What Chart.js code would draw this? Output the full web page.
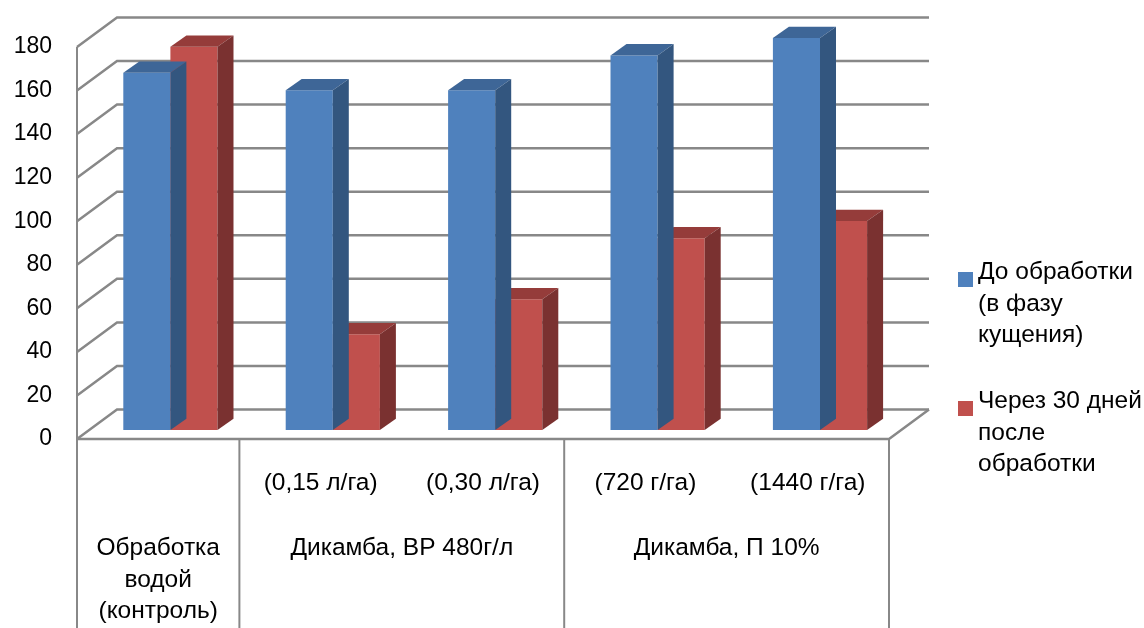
<!DOCTYPE html>
<html lang="ru">
<head>
<meta charset="utf-8">
<title>Дикамба</title>
<script src="https://cdn.jsdelivr.net/npm/chart.js@4/dist/chart.umd.min.js"></script>
<style>
  html, body { margin: 0; padding: 0; background: #ffffff; }
  #wrap { width: 1144px; height: 628px; position: relative; }
</style>
</head>
<body>
<div id="wrap"><canvas id="chart"></canvas></div>
<script>
// ---- data ----
const categories = ['', '(0,15 л/га)', '(0,30 л/га)', '(720 г/га)', '(1440 г/га)'];
const groupLabels = [['Обработка', 'водой', '(контроль)'], ['Дикамба, ВР 480г/л'], ['Дикамба, П 10%']];
const groupSpans = [1, 2, 2];
const seriesNames = [['До обработки', '(в фазу', 'кущения)'], ['Через 30 дней', 'после', 'обработки']];
const beforeValues = [164, 156, 156, 172, 180];
const afterValues = [176, 44, 60, 88, 96];
const yTickLabels = ['0', '20', '40', '60', '80', '100', '120', '140', '160', '180'];

// ---- look ----
const FONT_FAMILY = '"Liberation Sans", Arial, sans-serif';
const TICK_SIZE = 23;
const TEXT_SIZE = 24.5;
const LINE_H = 31.5;
const GRID = '#888888';
const WALL = { dx: 40, dy: -29.5 };       // front plane -> back wall
const BAR_SHIFT = { dx: 12.2, dy: -9 };   // front plane -> bar front faces
const BAR_DEPTH = { dx: 16, dy: -11.3 };  // bar front -> bar back
const COLORS = [
  { front: '#4F81BD', top: '#3E6697', side: '#33567F' },
  { front: '#C0504D', top: '#953C3A', side: '#7A3130' }
];

// walls, floor, bar depth, category labels and legend
const depthPlugin = {
  id: 'depth3d',
  beforeDatasetsDraw(chart) {
    const { ctx, chartArea: a, scales: { y } } = chart;
    ctx.save();
    ctx.strokeStyle = GRID;
    ctx.lineWidth = 2.5;
    y.ticks.forEach(t => {
      const fy = y.getPixelForValue(t.value);
      ctx.beginPath();
      ctx.moveTo(a.left, fy);
      ctx.lineTo(a.left + WALL.dx, fy + WALL.dy);
      ctx.lineTo(a.right + WALL.dx, fy + WALL.dy);
      ctx.stroke();
    });
    ctx.lineWidth = 2;
    ctx.beginPath();
    ctx.moveTo(a.left, a.bottom);
    ctx.lineTo(a.left, y.getPixelForValue(y.max));
    ctx.stroke();
    ctx.lineWidth = 2.5;
    ctx.beginPath();
    ctx.moveTo(a.left, a.bottom);
    ctx.lineTo(a.right, a.bottom);
    ctx.lineTo(a.right + WALL.dx, a.bottom + WALL.dy);
    ctx.stroke();
    ctx.restore();
    // bars stand in the middle of the floor depth
    ctx.save();
    ctx.translate(BAR_SHIFT.dx, BAR_SHIFT.dy);
  },
  afterDatasetDraw(chart, args) {
    const ctx = chart.ctx;
    const c = COLORS[args.index];
    args.meta.data.forEach(bar => {
      const { x, y, base, width } = bar.getProps(['x', 'y', 'base', 'width'], true);
      const l = x - width / 2, r = x + width / 2;
      ctx.fillStyle = c.top;
      ctx.beginPath();
      ctx.moveTo(l, y);
      ctx.lineTo(r, y);
      ctx.lineTo(r + BAR_DEPTH.dx, y + BAR_DEPTH.dy);
      ctx.lineTo(l + BAR_DEPTH.dx, y + BAR_DEPTH.dy);
      ctx.closePath();
      ctx.fill();
      ctx.fillStyle = c.side;
      ctx.beginPath();
      ctx.moveTo(r, y);
      ctx.lineTo(r + BAR_DEPTH.dx, y + BAR_DEPTH.dy);
      ctx.lineTo(r + BAR_DEPTH.dx, base + BAR_DEPTH.dy);
      ctx.lineTo(r, base);
      ctx.closePath();
      ctx.fill();
    });
  },
  afterDatasetsDraw(chart) {
    chart.ctx.restore();
  },
  afterDraw(chart) {
    const { ctx, chartArea: a, scales: { x } } = chart;
    const H = chart.height;
    ctx.save();
    // category boundaries on the front edge
    const bounds = [a.left];
    for (let i = 1; i < categories.length; i++) {
      bounds.push((x.getPixelForValue(i - 1) + x.getPixelForValue(i)) / 2);
    }
    bounds.push(a.right);
    // group dividers below the floor
    ctx.strokeStyle = GRID;
    ctx.lineWidth = 2;
    let idx = 0;
    const groupEdges = [0];
    groupSpans.forEach(s => { idx += s; groupEdges.push(idx); });
    groupEdges.forEach(g => {
      ctx.beginPath();
      ctx.moveTo(bounds[g], a.bottom);
      ctx.lineTo(bounds[g], H);
      ctx.stroke();
    });
    ctx.fillStyle = '#000000';
    ctx.font = TEXT_SIZE + 'px ' + FONT_FAMILY;
    ctx.textAlign = 'center';
    ctx.textBaseline = 'alphabetic';
    categories.forEach((lbl, i) => {
      if (lbl) ctx.fillText(lbl, x.getPixelForValue(i), a.bottom + 51);
    });
    groupLabels.forEach((lines, g) => {
      const cx = (bounds[groupEdges[g]] + bounds[groupEdges[g + 1]]) / 2;
      lines.forEach((ln, k) => ctx.fillText(ln, cx, a.bottom + 116 + k * LINE_H));
    });
    // legend
    const legendX = 958, legendTops = [272, 401];
    ctx.textAlign = 'left';
    seriesNames.forEach((lines, s) => {
      ctx.fillStyle = COLORS[s].front;
      ctx.fillRect(legendX, legendTops[s], 15, 15);
      ctx.fillStyle = '#000000';
      lines.forEach((ln, k) => ctx.fillText(ln, legendX + 20, legendTops[s] + 7 + k * LINE_H));
    });
    ctx.restore();
  }
};

new Chart(document.getElementById('chart'), {
  type: 'bar',
  data: {
    labels: categories,
    datasets: [
      { label: seriesNames[0].join(' '), data: beforeValues, backgroundColor: COLORS[0].front, clip: false },
      { label: seriesNames[1].join(' '), data: afterValues, backgroundColor: COLORS[1].front, clip: false }
    ]
  },
  options: {
    responsive: true,
    maintainAspectRatio: false,
    animation: false,
    events: [],
    layout: { padding: { top: 47, right: 255, bottom: 189, left: 0 } },
    datasets: { bar: { categoryPercentage: 0.58, barPercentage: 1.0, borderWidth: 0 } },
    plugins: { legend: { display: false }, tooltip: { enabled: false } },
    scales: {
      x: { display: false },
      y: {
        min: 0,
        max: 180,
        afterFit(scale) { scale.width = 77; },
        grid: { display: false, drawTicks: false },
        border: { display: false },
        ticks: {
          stepSize: 20,
          padding: 25,
          color: '#000000',
          font: { family: FONT_FAMILY, size: TICK_SIZE },
          callback: (v, i) => yTickLabels[i]
        }
      }
    }
  },
  plugins: [depthPlugin]
});
</script>
</body>
</html>
